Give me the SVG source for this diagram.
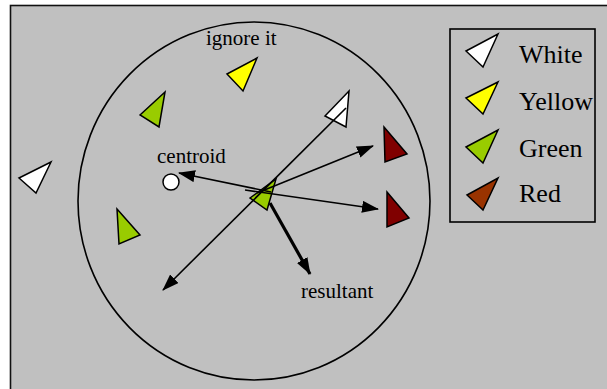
<svg xmlns="http://www.w3.org/2000/svg" width="607" height="389" viewBox="0 0 607 389">
  <style>
    .tri { stroke: #000; stroke-width: 1.5; stroke-linejoin: miter; }
    .white { fill: #ffffff; }
    .yellow { fill: #ffff00; }
    .green { fill: #99cc00; }
    .red { fill: #800000; }
    .brown { fill: #993300; }
    .lbl { font-family: "Liberation Serif", "Times New Roman", serif; fill: #000; }
    .small { font-size: 21px; }
    .big { font-size: 26px; }
    .conn { stroke: #000; stroke-width: 1.6; fill: none; marker-end: url(#head); }
    .bold { stroke-width: 3.2; }
  </style>
  <defs>
    <marker id="head" markerUnits="userSpaceOnUse" markerWidth="17" markerHeight="12" refX="16" refY="6" orient="auto">
      <path d="M0,0 L17,6 L0,12 z" fill="#000"/>
    </marker>
  </defs>

  <!-- page frame -->
  <rect x="0" y="0" width="607" height="389" fill="#ffffff"/>
  <rect x="10.5" y="5.5" width="610" height="400" fill="#c0c0c0" stroke="#111" stroke-width="1.6"/>

  <!-- neighbourhood circle -->
  <g id="range">
    <ellipse cx="254" cy="201" rx="176" ry="179" fill="none" stroke="#000" stroke-width="1.6"/>
  </g>

  <g id="label-ignore"><text class="lbl small" x="206" y="45">ignore it</text></g>

  <g id="yellow-1"><polygon class="tri yellow" points="227,74 257,58 243,91"/></g>
  <g id="green-1"><polygon class="tri green" points="140,115 165,92 159,127"/></g>
  <g id="white-outside"><polygon class="tri white" points="19,178 51,162 36,193"/></g>
  <g id="green-2"><polygon class="tri green" points="117,209 140,235 119,244"/></g>
  <g id="white-1"><polygon class="tri white" points="325,116 349,91 346,127"/></g>
  <g id="red-1"><polygon class="tri red" points="384,127 407,154 385,162"/></g>
  <g id="red-2"><polygon class="tri red" points="387,192 409,218 387,227"/></g>

  <g id="centroid">
    <circle cx="171" cy="182" r="8" fill="#ffffff" stroke="#000" stroke-width="1.5"/>
    <text class="lbl small" x="157" y="163">centroid</text>
  </g>

  <g id="agent"><polygon class="tri green" points="250,198 276,179 267,210"/></g>

  <!-- vectors from the agent -->
  <g id="connectors">
    <line class="conn" x1="346" y1="108" x2="163" y2="290"/>
    <line class="conn" x1="257" y1="193" x2="373" y2="146"/>
    <line class="conn" x1="271" y1="192" x2="179" y2="173"/>
    <line class="conn" x1="245" y1="190" x2="378" y2="209"/>
    <line class="conn bold" x1="270" y1="203" x2="310" y2="274"/>
  </g>

  <g id="label-resultant"><text class="lbl small" x="301" y="298">resultant</text></g>

  <!-- legend -->
  <g id="legend">
    <rect x="450" y="29" width="145" height="193" fill="none" stroke="#000" stroke-width="1.6"/>
    <polygon class="tri white" points="466,51 498,34 483,67"/>
    <polygon class="tri yellow" points="466,98 498,82 483,114"/>
    <polygon class="tri green" points="466,147 498,130 483,163"/>
    <polygon class="tri brown" points="467,195 498,178 483,210"/>
    <text class="lbl big" x="519" y="63">White</text>
    <text class="lbl big" x="519" y="110">Yellow</text>
    <text class="lbl big" x="519" y="157">Green</text>
    <text class="lbl big" x="519" y="202">Red</text>
  </g>
</svg>
